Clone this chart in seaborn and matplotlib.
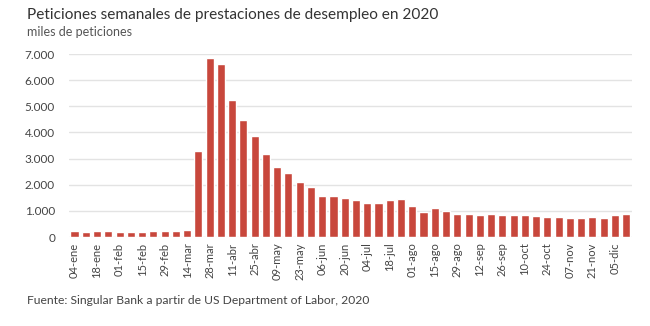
import matplotlib
matplotlib.use("Agg")
import matplotlib.pyplot as plt
import seaborn as sns
import pandas as pd
import numpy as np

weeks = ["04-ene", "11-ene", "18-ene", "25-ene", "01-feb", "08-feb", "15-feb", "22-feb",
         "29-feb", "07-mar", "14-mar", "21-mar", "28-mar", "04-abr", "11-abr", "18-abr",
         "25-abr", "02-may", "09-may", "16-may", "23-may", "30-may", "06-jun", "13-jun",
         "20-jun", "27-jun", "04-jul", "11-jul", "18-jul", "25-jul", "01-ago", "08-ago",
         "15-ago", "22-ago", "29-ago", "05-sep", "12-sep", "19-sep", "26-sep", "03-oct",
         "10-oct", "17-oct", "24-oct", "31-oct", "07-nov", "14-nov", "21-nov", "28-nov",
         "05-dic", "12-dic"]
claims = [220, 210, 220, 220, 200, 200, 210, 215, 220, 215, 280, 3310, 6870, 6620, 5250, 4460,
          3860, 3180, 2690, 2440, 2120, 1900, 1570, 1560, 1490, 1410, 1300, 1300, 1420, 1440,
          1180, 960, 1100, 1010, 880, 880, 860, 870, 840, 840, 830, 790, 750, 750, 710, 740,
          780, 720, 850, 880]
yticks = [0, 1000, 2000, 3000, 4000, 5000, 6000, 7000]

df = pd.DataFrame({"semana": weeks, "peticiones": claims})

sns.set_theme(style="white")
plt.rcParams["font.family"] = ["Lato", "DejaVu Sans"]

fig = plt.figure(figsize=(6.5, 3.26), dpi=100)
ax = fig.add_axes([0.106, 0.273, 0.866, 0.561])

sns.barplot(data=df, x="semana", y="peticiones", color="#C8473C", saturation=1,
            width=0.72, ax=ax, zorder=3)

ax.set_ylim(0, 7000)
ax.set_yticks(yticks)
ax.set_yticklabels([f"{v:,}".replace(",", ".") for v in yticks], fontsize=8.5, color="#444444")
ax.grid(axis="y", color="#e3e3e3", linewidth=1, zorder=0)
ax.set_xticks(range(0, len(weeks), 2))
ax.set_xticklabels(weeks[::2], rotation=90, fontsize=8, color="#444444")
ax.tick_params(axis="both", length=0, pad=4)
ax.tick_params(axis="y", pad=10)
ax.set_xlabel("")
ax.set_ylabel("")
for s in ax.spines.values():
    s.set_visible(False)

fig.text(0.042, 0.953, "Peticiones semanales de prestaciones de desempleo en 2020",
         fontsize=11.1, color="#333333", va="center", ha="left")
fig.text(0.042, 0.902, "miles de peticiones", fontsize=9, color="#555555", va="center", ha="left")
fig.text(0.042, 0.077, "Fuente: Singular Bank a partir de US Department of Labor, 2020",
         fontsize=8.7, color="#444444", va="center", ha="left")

fig.savefig("out.png", dpi=100)
